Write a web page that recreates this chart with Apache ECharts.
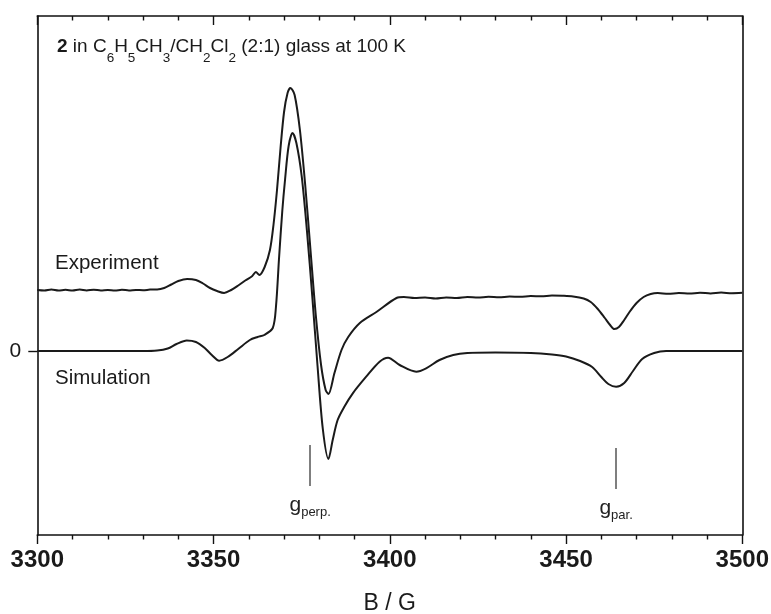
<!DOCTYPE html>
<html>
<head>
<meta charset="utf-8">
<script src="https://cdn.jsdelivr.net/npm/echarts@6/dist/echarts.min.js"></script>
<style>
html,body{margin:0;padding:0;background:#fff;}
#chart{width:771px;height:614px;}
</style>
</head>
<body>
<div id="chart"></div>
<script>
// Field (B / G) and intensity (arbitrary units; simulation baseline = 0, experiment plotted with offset)
var fieldExp = [3300,3302,3304,3306,3308,3310,3312,3314,3316,3318,3320,3322,3324,3326,3328,3330,3332,3334,3336,3338,3340,3342.5,3345,3347,3349,3351,3353,3355,3357,3359,3361,3362,3363,3364.5,3366,3367,3368,3369,3370,3371,3371.8,3373,3374.5,3376,3377.5,3379,3380.5,3381.8,3382.6,3384.3,3386.3,3388.2,3391.5,3396.2,3401.9,3404,3407,3410,3413,3416,3419,3422,3425,3428,3431,3434,3437,3440,3443,3446,3449,3452,3455,3457,3459,3461,3462.5,3463.7,3465,3466.5,3468,3470,3472,3474,3476,3479,3482,3485,3488,3491,3494,3497,3500];
var intensityExp = [61,60.5,61.5,60.5,61.2,60.4,61.4,60.6,61.3,60.5,61,60.4,61.2,60.6,61.1,60.8,61.4,61.5,63,66.5,70,72,71,67.5,63,60,58,61,65.5,70.5,75,79,76,84,101,126,161,203,239,258,263,256,221,166,101,36,-14,-39,-43,-22,1,14,28,39,53,54,53,53.5,52.5,53.5,53,54,53.5,54.2,53.7,54.5,54.2,55,54.7,55.5,55.2,54.5,52.5,49,42,33,26,22,24,31,39,48,54,57,58,57.2,58,57.4,58.2,57.6,58.4,57.8,58.2];

var fieldSim = [3300,3310,3320,3330,3334,3337,3339.5,3342.4,3345,3347.5,3349.5,3351.6,3354,3357,3360.3,3362.5,3364.4,3366.8,3367.7,3368.6,3369.5,3370.3,3371.3,3372.4,3373.5,3375,3376.5,3378,3379.5,3381,3382.6,3383.8,3385.2,3387.1,3389.5,3393.3,3397.1,3399.5,3402.8,3407.5,3410.3,3414.1,3418,3422,3430,3440,3446,3450,3454,3457.4,3460,3462,3464.2,3466.5,3469,3471.6,3475,3478.4,3485,3500];
var intensitySim = [0,0,0,0,0.5,2.5,7,10.5,9,3,-4,-9.7,-6,2,11,14,16,23,44,94,140,172,205,218,208,175,120,55,-15,-78,-108,-89,-69,-55.7,-42.3,-25.7,-10.7,-6.7,-14,-20.7,-17.3,-9,-4,-2,-1.5,-2,-3.5,-5.5,-10,-16,-26,-33,-35.7,-32,-20,-8,-2,0,0,0];

var xRange = [3300, 3500];
var xMajorStep = 50;
var yRange = [-184, 335];
var yTickValues = [0];

// g-marker annotations: field position and vertical extent (intensity units)
var gPerp = {field: 3377.4, from: -94, to: -135, label: 'perp.'};
var gPar = {field: 3464.2, from: -97, to: -138, label: 'par.'};

function pairs(xs, ys){ return xs.map(function(x,i){ return [x, ys[i]]; }); }

var FONT = '"Liberation Sans", Arial, Helvetica, sans-serif';
var INK = '#1a1a1a';

var chart = echarts.init(document.getElementById('chart'), null, {renderer:'canvas'});

function gMarker(g){
  return [
    {coord:[g.field, g.from], symbol:'none'},
    {coord:[g.field, g.to], symbol:'none',
     label:{show:true, position:'end', distance:6,
       formatter:'{g|g}{s|' + g.label + '}',
       rich:{
         g:{fontFamily:FONT, fontSize:21, color:'#222'},
         s:{fontFamily:FONT, fontSize:13, color:'#222', padding:[14,0,0,0]}
       }}}
  ];
}

var option = {
  animation:false,
  backgroundColor:'#ffffff',
  grid:{left:37.3, right:28.7, top:16, bottom:79, containLabel:false, outerBoundsMode:'none'},
  xAxis:[{
    type:'value', position:'bottom', min:xRange[0], max:xRange[1], interval:xMajorStep,
    axisLine:{show:true, onZero:false, lineStyle:{color:'#111', width:1.6}},
    axisTick:{show:true, inside:false, length:9, lineStyle:{color:'#111', width:1.4}},
    minorTick:{show:true, splitNumber:5, length:4.5, lineStyle:{color:'#111', width:1.4}},
    axisLabel:{show:true, margin:13, formatter:function(v){ return String(v); },
      fontFamily:FONT, fontWeight:'bold', fontSize:24, color:'#1a1a1a'},
    splitLine:{show:false},
    name:'B / G', nameLocation:'middle', nameGap:57,
    nameTextStyle:{fontFamily:FONT, fontSize:23, color:'#1a1a1a'}
  },{
    type:'value', position:'top', min:xRange[0], max:xRange[1], interval:xMajorStep,
    axisLine:{show:true, onZero:false, lineStyle:{color:'#111', width:1.6}},
    axisTick:{show:true, inside:true, length:9, lineStyle:{color:'#111', width:1.4}},
    minorTick:{show:true, splitNumber:5, length:4.5, lineStyle:{color:'#111', width:1.4}},
    axisLabel:{show:false},
    splitLine:{show:false}
  }],
  yAxis:[{
    type:'value', position:'left', min:yRange[0], max:yRange[1],
    axisLine:{show:true, onZero:false, lineStyle:{color:'#111', width:1.6}},
    axisTick:{show:true, inside:false, length:9, customValues:yTickValues, lineStyle:{color:'#111', width:1.4}},
    axisLabel:{show:true, margin:16, customValues:yTickValues, fontFamily:FONT, fontSize:21, color:'#1a1a1a'},
    splitLine:{show:false}
  },{
    type:'value', position:'right', min:yRange[0], max:yRange[1],
    axisLine:{show:true, onZero:false, lineStyle:{color:'#111', width:1.6}},
    axisTick:{show:false}, axisLabel:{show:false}, splitLine:{show:false}
  }],
  series:[{
    name:'Experiment', type:'line', xAxisIndex:0, yAxisIndex:0,
    data:pairs(fieldExp, intensityExp), symbol:'none', smooth:0.3,
    lineStyle:{color:INK, width:2}
  },{
    name:'Simulation', type:'line', xAxisIndex:0, yAxisIndex:0,
    data:pairs(fieldSim, intensitySim), symbol:'none', smooth:0.3,
    lineStyle:{color:INK, width:2},
    markLine:{
      silent:true, symbol:['none','none'], animation:false,
      lineStyle:{color:'#555', width:1.5, type:'solid'},
      label:{show:false},
      data:[gMarker(gPerp), gMarker(gPar)]
    }
  }],
  graphic:[
    {type:'text', left:57, top:37, style:{
      text:'{b|2} in C{s|6}H{s|5}CH{s|3}/CH{s|2}Cl{s|2} (2:1) glass at 100 K',
      font:'19px ' + FONT, fill:'#1a1a1a',
      rich:{
        b:{fontFamily:FONT, fontSize:19, fontWeight:'bold', fill:'#1a1a1a'},
        s:{fontFamily:FONT, fontSize:13.5, fill:'#1a1a1a', padding:[24,0,0,0]}
      }}},
    {type:'text', left:55, top:253, style:{text:'Experiment', font:'20.5px ' + FONT, fill:'#1a1a1a'}},
    {type:'text', left:55, top:368, style:{text:'Simulation', font:'20.5px ' + FONT, fill:'#1a1a1a'}}
  ]
};
chart.setOption(option);
</script>
</body>
</html>
